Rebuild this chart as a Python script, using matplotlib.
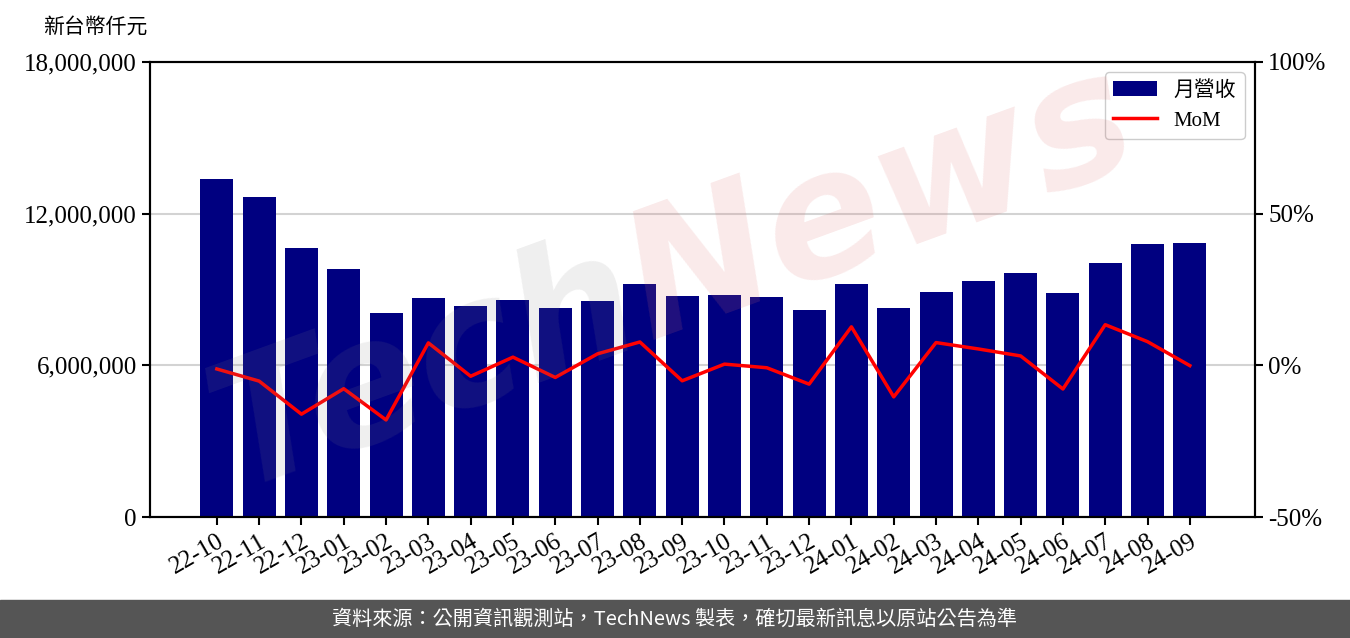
import matplotlib
matplotlib.use("Agg")
import matplotlib.pyplot as plt
import numpy as np
from matplotlib.ticker import FuncFormatter

plt.rcParams['font.family'] = ['Liberation Serif', 'Noto Sans CJK TC']

months = ['22-10', '22-11', '22-12', '23-01', '23-02', '23-03', '23-04', '23-05',
          '23-06', '23-07', '23-08', '23-09', '23-10', '23-11', '23-12', '24-01',
          '24-02', '24-03', '24-04', '24-05', '24-06', '24-07', '24-08', '24-09']
# monthly revenue, NT$ thousand
revenue = [13370000, 12660000, 10640000, 9810000, 8070000, 8660000, 8350000, 8580000,
           8270000, 8540000, 9220000, 8740000, 8780000, 8700000, 8190000, 9220000,
           8270000, 8900000, 9340000, 9650000, 8860000, 10050000, 10800000, 10840000]
# month over month, %
mom = [-1.2, -5.2, -16.1, -7.7, -18.0, 7.4, -3.6, 2.7, -4.0, 3.8, 7.7, -5.1,
       0.4, -0.8, -6.2, 12.7, -10.4, 7.5, 5.4, 3.1, -7.8, 13.4, 7.8, -0.1]

left_ticks = [0, 6000000, 12000000, 18000000]
right_ticks = [-50, 0, 50, 100]

fig = plt.figure(figsize=(13.5, 6.38), dpi=100)
ax = fig.add_axes([150 / 1350, 1 - 517 / 638, 1105 / 1350, 455 / 638])
x = np.arange(len(months))

bars = ax.bar(x, revenue, width=0.78, color='#000080', label='月營收', zorder=2)
ax.set_ylim(0, 18000000)
ax.set_yticks(left_ticks)
ax.yaxis.set_major_formatter(FuncFormatter(lambda v, p: f"{int(v):,}"))
ax.grid(axis='y', color='#d3d3d3', linewidth=1.5, zorder=0)
ax.set_axisbelow(True)
ax.set_xlim(-1.58, 24.54)
ax.set_xticks(x)
ax.set_xticklabels(months, rotation=30, ha='right', rotation_mode='anchor')

ax2 = ax.twinx()
line, = ax2.plot(x, mom, color='red', linewidth=2.5, label='MoM', zorder=3)
ax2.set_ylim(-50, 100)
ax2.set_yticks(right_ticks)
ax2.yaxis.set_major_formatter(FuncFormatter(lambda v, p: f"{int(v)}%"))

for a in (ax, ax2):
    a.tick_params(labelsize=18, length=6, width=1.5)
    for s in a.spines.values():
        s.set_linewidth(1.5)

ax2.legend([bars, line], ['月營收', 'MoM'], loc='upper right', fontsize=15,
           framealpha=1, borderpad=0.4, handlelength=2.1)

fig.text(43 / 1350, 1 - 27 / 638, '新台幣仟元', fontsize=15,
         family=['Noto Sans CJK TC'], va='center', ha='left')

# watermark
wx, wy = 650 / 1350, 1 - 340 / 638
fig.text(wx, wy, 'Tech', fontsize=125, fontweight='bold', fontstyle='italic',
         family='DejaVu Sans', color='#808080', alpha=0.13, rotation=20,
         rotation_mode='anchor', ha='right', va='baseline', zorder=10)
fig.text(wx, wy, 'News', fontsize=125, fontweight='bold', fontstyle='italic',
         family='DejaVu Sans', color='#e07070', alpha=0.15, rotation=20,
         rotation_mode='anchor', ha='left', va='baseline', zorder=10)

# footer
fig.patches.append(plt.Rectangle((0, 0), 1, 38 / 638, transform=fig.transFigure,
                                 color='#555555', zorder=0))
fig.text(0.5, 19 / 638, '資料來源：公開資訊觀測站，TechNews 製表，確切最新訊息以原站公告為準',
         color='white', fontsize=14.5, family=['Noto Sans CJK TC'],
         ha='center', va='center')

fig.savefig('out.png', dpi=100)
